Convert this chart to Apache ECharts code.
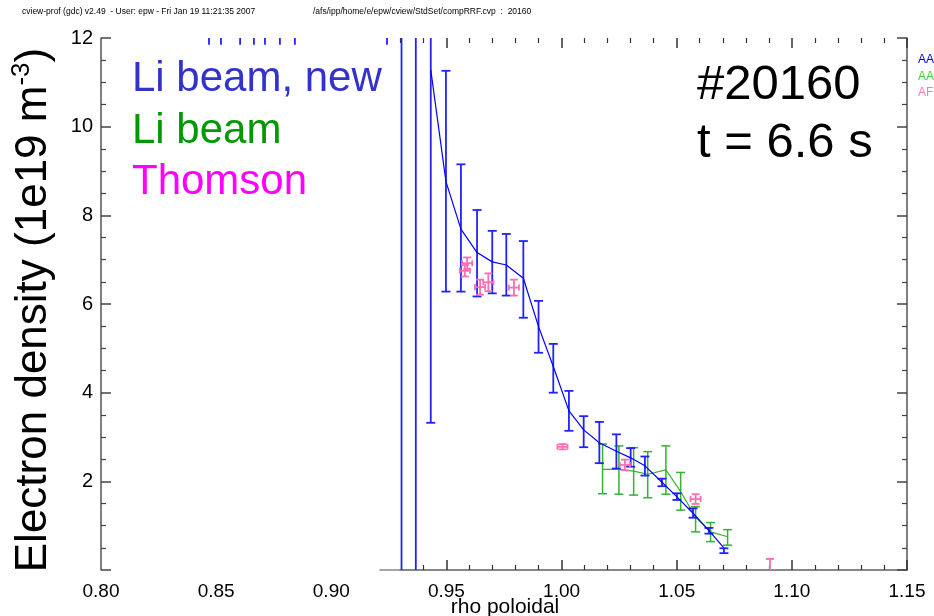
<!DOCTYPE html>
<html>
<head>
<meta charset="utf-8">
<script src="https://cdn.jsdelivr.net/npm/echarts@6/dist/echarts.min.js"></script>
<style>
html,body{margin:0;padding:0;background:#fff;}
#chart{width:934px;height:616px;}
</style>
</head>
<body>
<div id="chart"></div>
<script>
// ---------------- data ----------------
const xTickLabels = [0.80, 0.85, 0.90, 0.95, 1.00, 1.05, 1.10, 1.15];
const xMajorTicks = [0.95, 1.00, 1.05, 1.10, 1.15];
const xMinorTicksBottom = [0.94, 0.96, 0.97, 0.98, 0.99, 1.01, 1.02, 1.03, 1.04, 1.06, 1.07, 1.08, 1.09, 1.11, 1.12, 1.13, 1.14];
const xMinorTicksTop = [0.93, 0.94, 0.96, 0.97, 0.98, 0.99, 1.01, 1.02, 1.03, 1.04, 1.06, 1.07, 1.08, 1.09, 1.11, 1.12, 1.13, 1.14];
const yTickLabels = [2, 4, 6, 8, 10, 12];

// Li beam, new (blue): rho, value (null = off scale), error low, error high
const blueRho = [0.8469, 0.8521, 0.8604, 0.8664, 0.8712, 0.8777, 0.8842, 0.9242, 0.9305, 0.9367,
  0.9432, 0.9498, 0.9563, 0.9633, 0.9699, 0.9760, 0.9834, 0.9900, 0.9964, 1.0032, 1.0096, 1.0164,
  1.0238, 1.0300, 1.0362, 1.0436, 1.0501, 1.0571, 1.0640, 1.0705];
const blueVal = [null, null, null, null, null, null, null, null, null, null,
  11.28, 8.76, 7.69, 7.16, 6.95, 6.88, 6.58, 5.49, 4.59, 3.59, 3.16, 2.87,
  2.68, 2.53, 2.35, 1.98, 1.65, 1.28, 0.89, 0.50];
const blueLo = [11.85, 11.85, 11.85, 11.85, 11.85, 11.85, 11.85, 11.85, -6, -6,
  3.32, 6.28, 6.28, 6.17, 6.24, 6.19, 5.69, 4.90, 4.00, 3.14, 2.77, 2.41,
  2.29, 2.33, 2.13, 1.89, 1.58, 1.18, 0.82, 0.38];
const blueHi = [14, 14, 14, 14, 14, 14, 14, 14, 20, 20,
  19.2, 11.26, 9.15, 8.12, 7.65, 7.58, 7.42, 6.07, 5.10, 4.04, 3.47, 3.34,
  3.06, 2.75, 2.56, 2.06, 1.73, 1.39, 0.95, 0.49];

// Li beam (green)
const greenRho = [1.0178, 1.0249, 1.0313, 1.0374, 1.0453, 1.0517, 1.0582, 1.0647, 1.0721];
const greenVal = [2.27, 2.27, 2.23, 2.16, 2.26, 1.77, 1.19, 0.86, 0.75];
const greenLo  = [1.72, 1.71, 1.69, 1.63, 1.71, 1.35, 0.86, 0.64, 0.56];
const greenHi  = [2.84, 2.80, 2.76, 2.67, 2.80, 2.20, 1.43, 1.07, 0.91];

// Thomson (pink): rho, value, value error, rho error
const thomRho  = [0.9590, 0.9580, 0.9646, 0.9682, 0.9793, 1.0004, 1.0275, 1.0582, 1.0905];
const thomVal  = [6.92, 6.75, 6.38, 6.49, 6.37, 2.78, 2.37, 1.60, -0.05];
const thomErr  = [0.13, 0.13, 0.17, 0.20, 0.18, 0.06, 0.12, 0.11, 0.30];
const thomRErr = [0.0022, 0.0022, 0.0022, 0.0022, 0.0022, 0.0022, 0.0022, 0.0022, 0.0022];

// ---------------- chart ----------------
const FONT = '"Liberation Sans", Arial, Helvetica, sans-serif';
const BLUE = '#0000ff', BLUE_BAR = '#2222ff', GREEN = '#33b233', PINK = '#ff6eb2';
const TICK = '#333', AXIS = '#666';

const blueLine = [];
blueRho.forEach((r, i) => { if (blueVal[i] !== null) blueLine.push([r, blueVal[i]]); });
// 4th column: 1 if the point itself is on scale (draw caps), 0 otherwise
const blueBars = blueRho.map((r, i) => [r, blueLo[i], blueHi[i], blueVal[i] === null ? 0 : 1]);
const greenLine = greenRho.map((r, i) => [r, greenVal[i]]);
const greenBars = greenRho.map((r, i) => [r, greenLo[i], greenHi[i], 1]);
const thomData = thomRho.map((r, i) => [r, thomVal[i], thomErr[i], thomRErr[i]]);

function errBar(color, width, cap) {
  return function (params, api) {
    const x = api.value(0), lo = api.value(1), hi = api.value(2), withCaps = api.value(3);
    const p1 = api.coord([x, lo]), p2 = api.coord([x, hi]);
    const st = { stroke: color, lineWidth: width };
    const children = [{ type: 'line', shape: { x1: p1[0], y1: p1[1], x2: p2[0], y2: p2[1] }, style: st }];
    if (withCaps) {
      children.push({ type: 'line', shape: { x1: p1[0] - cap, y1: p1[1], x2: p1[0] + cap, y2: p1[1] }, style: st });
      children.push({ type: 'line', shape: { x1: p2[0] - cap, y1: p2[1], x2: p2[0] + cap, y2: p2[1] }, style: st });
    }
    return { type: 'group', children: children };
  };
}
function crossBar(params, api) {
  const x = api.value(0), y = api.value(1), ey = api.value(2), ex = api.value(3);
  const t = api.coord([x, y + ey]), b = api.coord([x, y - ey]);
  const l = api.coord([x - ex, y]), r = api.coord([x + ex, y]);
  const st = { stroke: PINK, lineWidth: 1.8 };
  const c = 4, cv = 3;
  return { type: 'group', children: [
    { type: 'line', shape: { x1: t[0], y1: t[1], x2: b[0], y2: b[1] }, style: st },
    { type: 'line', shape: { x1: t[0] - c, y1: t[1], x2: t[0] + c, y2: t[1] }, style: st },
    { type: 'line', shape: { x1: b[0] - c, y1: b[1], x2: b[0] + c, y2: b[1] }, style: st },
    { type: 'line', shape: { x1: l[0], y1: l[1], x2: r[0], y2: r[1] }, style: st },
    { type: 'line', shape: { x1: l[0], y1: l[1] - cv, x2: l[0], y2: l[1] + cv }, style: st },
    { type: 'line', shape: { x1: r[0], y1: r[1] - cv, x2: r[0], y2: r[1] + cv }, style: st }
  ]};
}

const gridBox = { right: 27, top: 38, bottom: 46 };
const noAxisBits = { axisLabel: { show: false }, splitLine: { show: false } };

const option = {
  animation: false,
  backgroundColor: '#fff',
  textStyle: { fontFamily: FONT },
  grid: [
    Object.assign({ left: 101 }, gridBox),
    Object.assign({ left: 400 }, gridBox),
    Object.assign({ left: 380 }, gridBox)
  ],
  xAxis: [
    { gridIndex: 0, type: 'value', min: 0.8, max: 1.15, interval: 0.05, position: 'bottom',
      axisLine: { show: false },
      axisTick: { show: true, inside: true, length: 10, customValues: xMajorTicks, lineStyle: { color: TICK, width: 1.5 } },
      axisLabel: { show: true, customValues: xTickLabels, formatter: v => v.toFixed(2), fontSize: 19, color: '#000', margin: 12, fontFamily: FONT },
      splitLine: { show: false } },
    Object.assign({ gridIndex: 0, type: 'value', min: 0.8, max: 1.15, position: 'bottom',
      axisLine: { show: false },
      axisTick: { show: true, inside: true, length: 5, customValues: xMinorTicksBottom, lineStyle: { color: TICK, width: 1.2 } } }, noAxisBits),
    Object.assign({ gridIndex: 0, type: 'value', min: 0.8, max: 1.15, position: 'top',
      axisLine: { show: false },
      axisTick: { show: true, inside: true, length: 10, customValues: xMajorTicks, lineStyle: { color: TICK, width: 1.5 } } }, noAxisBits),
    Object.assign({ gridIndex: 0, type: 'value', min: 0.8, max: 1.15, position: 'top',
      axisLine: { show: false },
      axisTick: { show: true, inside: true, length: 5, customValues: xMinorTicksTop, lineStyle: { color: TICK, width: 1.2 } } }, noAxisBits),
    Object.assign({ gridIndex: 1, type: 'value', min: 0.93, max: 1.15, position: 'bottom',
      axisLine: { show: true, lineStyle: { color: AXIS, width: 1.5 } }, axisTick: { show: false } }, noAxisBits),
    Object.assign({ gridIndex: 2, type: 'value', min: 0.921, max: 1.15, position: 'top',
      axisLine: { show: true, lineStyle: { color: '#888', width: 1.5 } }, axisTick: { show: false } }, noAxisBits)
  ],
  yAxis: [
    { gridIndex: 0, type: 'value', min: 0, max: 12, interval: 2, position: 'left',
      axisLine: { show: true, lineStyle: { color: '#555', width: 1.5 } },
      axisTick: { show: true, inside: true, length: 10, lineStyle: { color: '#444', width: 1.5 } },
      minorTick: { show: true, splitNumber: 4, length: 5, lineStyle: { color: '#444', width: 1.2 } },
      axisLabel: { show: true, fontSize: 20, color: '#000', margin: 8, fontFamily: FONT,
                   formatter: v => (yTickLabels.indexOf(v) >= 0 ? String(v) : '') },
      splitLine: { show: false } },
    Object.assign({ gridIndex: 0, type: 'value', min: 0, max: 12, interval: 2, position: 'right',
      axisLine: { show: true, lineStyle: { color: '#555', width: 1.5 } },
      axisTick: { show: true, inside: true, length: 10, lineStyle: { color: '#444', width: 1.5 } },
      minorTick: { show: true, splitNumber: 4, length: 5, lineStyle: { color: '#444', width: 1.2 } } }, noAxisBits),
    { gridIndex: 1, type: 'value', min: 0, max: 12, show: false },
    { gridIndex: 2, type: 'value', min: 0, max: 12, show: false }
  ],
  series: [
    { name: 'Li beam, new', type: 'line', xAxisIndex: 0, yAxisIndex: 0, data: blueLine,
      symbol: 'none', clip: true, lineStyle: { color: BLUE, width: 1.2 }, z: 5 },
    { type: 'custom', xAxisIndex: 0, yAxisIndex: 0, data: blueBars, clip: true,
      encode: { x: 0, y: [1, 2] }, renderItem: errBar(BLUE_BAR, 1.8, 4.5), z: 4 },
    { name: 'Li beam', type: 'line', xAxisIndex: 0, yAxisIndex: 0, data: greenLine,
      symbol: 'none', clip: true, lineStyle: { color: GREEN, width: 1.2 }, z: 3 },
    { type: 'custom', xAxisIndex: 0, yAxisIndex: 0, data: greenBars, clip: true,
      encode: { x: 0, y: [1, 2] }, renderItem: errBar(GREEN, 1.5, 4.5), z: 3 },
    { name: 'Thomson', type: 'custom', xAxisIndex: 0, yAxisIndex: 0, data: thomData, clip: true,
      encode: { x: 0, y: 1 }, renderItem: crossBar, z: 6 }
  ],
  graphic: [
    { type: 'text', x: 22, y: 12, style: { text: 'cview-prof (gdc) v2.49  - User: epw - Fri Jan 19 11:21:35 2007',
      font: '8.5px ' + FONT, fill: '#000', textAlign: 'left', textVerticalAlign: 'middle' } },
    { type: 'text', x: 313, y: 12, style: { text: '/afs/ipp/home/e/epw/cview/StdSet/compRRF.cvp  :  20160',
      font: '8.5px ' + FONT, fill: '#000', textAlign: 'left', textVerticalAlign: 'middle' } },
    { type: 'text', x: 132, y: 79, style: { text: 'Li beam, new', font: '42px ' + FONT, fill: '#3333cc', textVerticalAlign: 'middle' } },
    { type: 'text', x: 132, y: 131, style: { text: 'Li beam', font: '42px ' + FONT, fill: '#009900', textVerticalAlign: 'middle' } },
    { type: 'text', x: 132, y: 182, style: { text: 'Thomson', font: '42px ' + FONT, fill: '#ff00ff', textVerticalAlign: 'middle' } },
    { type: 'text', x: 697, y: 85, style: { text: '#20160', font: '49px ' + FONT, fill: '#000', textVerticalAlign: 'middle' } },
    { type: 'text', x: 697, y: 143, style: { text: 't = 6.6 s', font: '49px ' + FONT, fill: '#000', textVerticalAlign: 'middle' } },
    { type: 'text', x: 918, y: 60, style: { text: 'AAA', font: '12px ' + FONT, fill: '#0000ff', textVerticalAlign: 'middle' } },
    { type: 'text', x: 918, y: 77, style: { text: 'AAA', font: '12px ' + FONT, fill: '#44cc44', textVerticalAlign: 'middle' } },
    { type: 'text', x: 918, y: 93, style: { text: 'AFX', font: '12px ' + FONT, fill: '#ff77bb', textVerticalAlign: 'middle' } },
    { type: 'text', x: 505, y: 607, style: { text: 'rho poloidal', font: '21px ' + FONT, fill: '#000', textAlign: 'center', textVerticalAlign: 'middle' } },
    { type: 'text', x: 34, y: 310, rotation: Math.PI / 2,
      style: { text: '{a|Electron density (1e19 m}{s|-3}{a|)}', textAlign: 'center', textVerticalAlign: 'middle',
        rich: { a: { fontSize: 44, fontFamily: FONT, fill: '#000', lineHeight: 50 },
                s: { fontSize: 26, fontFamily: FONT, fill: '#000', verticalAlign: 'top', lineHeight: 50 } } } }
  ]
};

const chart = echarts.init(document.getElementById('chart'), null, { renderer: 'canvas' });
chart.setOption(option);
</script>
</body>
</html>
